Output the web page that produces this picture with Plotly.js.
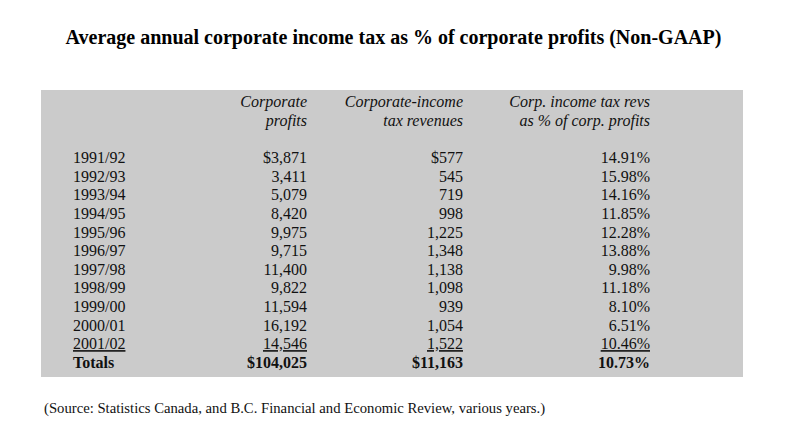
<!DOCTYPE html>
<html>
<head>
<meta charset="utf-8">
<script src="https://cdn.plot.ly/plotly-3.0.1.min.js"></script>
<style>html,body{margin:0;padding:0;background:#fff;}#chart{width:787px;height:446px;}</style>
</head>
<body>
<div id="chart"></div>
<script>
const years = ["1991/92","1992/93","1993/94","1994/95","1995/96","1996/97","1997/98","1998/99","1999/00","2000/01","2001/02"];
const profits = [3871,3411,5079,8420,9975,9715,11400,9822,11594,16192,14546];
const revenues = [577,545,719,998,1225,1348,1138,1098,939,1054,1522];
const pctRevs = [14.91,15.98,14.16,11.85,12.28,13.88,9.98,11.18,8.10,6.51,10.46];
const totalLabel = "Totals";
const totalProfits = 104025;
const totalRevenues = 11163;
const totalPct = 10.73;
const headerLine1 = ["", "Corporate", "Corporate-income", "Corp. income tax revs"];
const headerLine2 = ["", "profits", "tax revenues", "as % of corp. profits"];

const W = 787, H = 446;
const fmt = n => n.toLocaleString('en-US');
const n = years.length;
const last = n - 1;

const col1 = years.concat([totalLabel]);
const col2 = profits.map((v,i) => (i === 0 ? "$" : "") + fmt(v)).concat(["$" + fmt(totalProfits)]);
const col3 = revenues.map((v,i) => (i === 0 ? "$" : "") + fmt(v)).concat(["$" + fmt(totalRevenues)]);
const col4 = pctRevs.map(v => v.toFixed(2) + "%").concat([totalPct.toFixed(2) + "%"]);

const weights = col1.map((_, i) => i === n ? "bold" : "normal");
const linepos = col1.map((_, i) => i === last ? "under" : "none");

const gray = "#cbcbcb";
const clear = "rgba(0,0,0,0)";
const tx0 = 65, tx1 = 658, ty0 = 87, ty1 = 395;
const serif = "Liberation Serif, serif";

const trace = {
  type: "table",
  domain: {x: [tx0/W, tx1/W], y: [1 - ty1/H, 1 - ty0/H]},
  columnwidth: [135, 115, 156, 187],
  header: {
    values: headerLine1.map((h, i) => [h, headerLine2[i], ""]),
    align: ["left", "right", "right", "right"],
    height: 18.7,
    fill: {color: clear},
    line: {color: clear, width: 0},
    font: {family: serif, size: 16, color: "#111", style: "italic"}
  },
  cells: {
    values: [col1, col2, col3, col4],
    align: ["left", "right", "right", "right"],
    height: 18.6,
    fill: {color: clear},
    line: {color: clear, width: 0},
    font: {family: serif, size: 16, color: "#111",
           weight: [weights, weights, weights, weights],
           lineposition: [linepos, linepos, linepos, linepos]}
  }
};

const layout = {
  width: W, height: H,
  margin: {l: 0, r: 0, t: 0, b: 0},
  paper_bgcolor: "#ffffff",
  title: {
    text: "Average annual corporate income tax as % of corporate profits (Non-GAAP)",
    font: {family: serif, size: 20, color: "#000", weight: "bold"},
    x: 0.5, xanchor: "center", y: 1 - 37/H, yanchor: "middle"
  },
  shapes: [{
    type: "rect", xref: "paper", yref: "paper",
    x0: 41/W, x1: 743/W, y0: 1 - 377/H, y1: 1 - 90/H,
    fillcolor: gray, line: {width: 0}, layer: "below"
  }],
  annotations: [{
    text: "(Source: Statistics Canada, and B.C. Financial and Economic Review, various years.)",
    xref: "paper", yref: "paper", x: 42/W, y: 1 - 408/H,
    xanchor: "left", yanchor: "middle", showarrow: false,
    font: {family: serif, size: 14.7, color: "#111"}
  }]
};

Plotly.newPlot("chart", [trace], layout, {displayModeBar: false, staticPlot: true});
</script>
</body>
</html>
